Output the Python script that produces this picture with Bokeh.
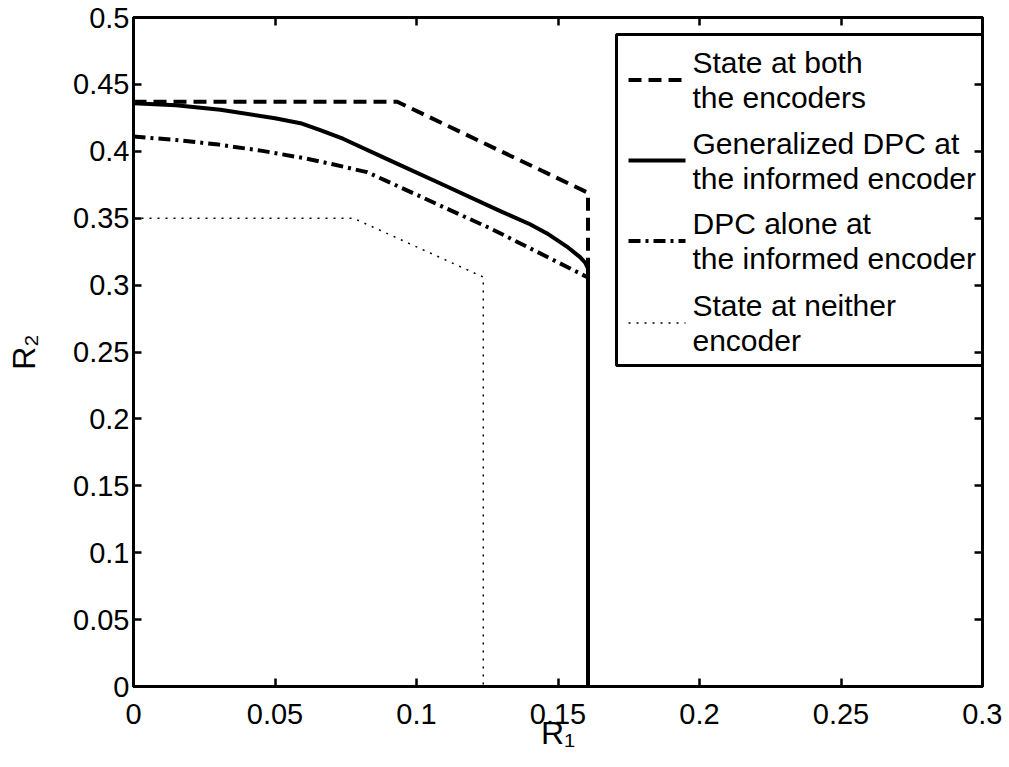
from bokeh.plotting import figure
from bokeh.models import Range1d, LinearAxis, FixedTicker
from bokeh.embed import file_html
from bokeh.resources import INLINE
from bokeh.core.properties import value

# ---------------- data ----------------
x_ticks = [0, 0.05, 0.1, 0.15, 0.2, 0.25, 0.3]
x_tick_labels = ["0", "0.05", "0.1", "0.15", "0.2", "0.25", "0.3"]
y_ticks = [0, 0.05, 0.1, 0.15, 0.2, 0.25, 0.3, 0.35, 0.4, 0.45, 0.5]
y_tick_labels = ["0", "0.05", "0.1", "0.15", "0.2", "0.25", "0.3", "0.35", "0.4", "0.45", "0.5"]
x_label = "R\u2081"
y_label = "R\u2082"

both_x = [0, 0.0932, 0.1606, 0.1606]
both_y = [0.437, 0.437, 0.369, 0]

gdpc_x = [0, 0.015, 0.0307, 0.05, 0.059, 0.066, 0.0742, 0.09, 0.11, 0.13,
          0.1401, 0.146, 0.153, 0.1578, 0.1597, 0.1606, 0.1606]
gdpc_y = [0.436, 0.4345, 0.431, 0.4247, 0.421, 0.4158, 0.4092, 0.3938, 0.3744, 0.3549,
          0.3455, 0.3388, 0.3290, 0.3209, 0.3165, 0.3125, 0]

dpc_x = [0, 0.015, 0.03, 0.045, 0.06, 0.07, 0.0825, 0.0942, 0.1119, 0.126, 0.1606, 0.1606]
dpc_y = [0.411, 0.4085, 0.405, 0.4005, 0.395, 0.3905, 0.3844, 0.3732, 0.356, 0.3425, 0.3057, 0]

neither_x = [0, 0.0777, 0.1236, 0.1236]
neither_y = [0.35, 0.35, 0.306, 0]

legend_labels = [
    ["State at both", "the encoders"],
    ["Generalized DPC at", "the informed encoder"],
    ["DPC alone at", "the informed encoder"],
    ["State at neither", "encoder"],
]

X_MAX = 0.3
Y_MAX = 0.5

# ---------------- layout (page pixels) ----------------
FL, FR, FT, FB = 133, 982, 17, 686
FONT = "Liberation Sans"
TICK_FS = "29px"
LEG_FS = "30px"


def dx(px):
    return (px - FL) / (FR - FL) * X_MAX


def dy(py):
    return (FB - py) / (FB - FT) * Y_MAX


p = figure(
    x_range=Range1d(0, X_MAX), y_range=Range1d(0, Y_MAX),
    frame_width=FR - FL, frame_height=FB - FT,
    min_border_left=FL, min_border_top=FT,
    min_border_right=20, min_border_bottom=78,
    output_backend="svg", toolbar_location=None,
)
p.xgrid.visible = False
p.ygrid.visible = False
p.background_fill_color = "white"
p.border_fill_color = "white"
p.outline_line_color = "black"
p.outline_line_width = 3


def style_axis(ax, ticks, labels, show_labels, standoff):
    ax.ticker = FixedTicker(ticks=ticks)
    ax.axis_line_width = 3
    ax.axis_line_color = "black"
    ax.major_tick_in = 8
    ax.major_tick_out = 0
    ax.major_tick_line_width = 2.5
    ax.major_tick_line_color = "black"
    ax.minor_tick_line_color = None
    ax.major_label_standoff = standoff
    if show_labels:
        ax.major_label_overrides = {t: s for t, s in zip(ticks, labels)}
        ax.major_label_text_font = FONT
        ax.major_label_text_font_size = TICK_FS
        ax.major_label_text_color = "black"
    else:
        ax.major_label_overrides = {t: "" for t in ticks}
        ax.major_label_text_font_size = "0px"


style_axis(p.xaxis[0], x_ticks, x_tick_labels, True, 17)
style_axis(p.yaxis[0], y_ticks, y_tick_labels, True, 4)

for ax, lab, so in ((p.xaxis[0], x_label, -12), (p.yaxis[0], y_label, 28)):
    ax.axis_label = lab
    ax.axis_label_text_font = FONT
    ax.axis_label_text_font_size = "32px"
    ax.axis_label_text_font_style = "normal"
    ax.axis_label_text_color = "black"
    ax.axis_label_standoff = so

top_ax = LinearAxis()
style_axis(top_ax, x_ticks, x_tick_labels, False, 0)
p.add_layout(top_ax, "above")
right_ax = LinearAxis()
style_axis(right_ax, y_ticks, y_tick_labels, False, 0)
p.add_layout(right_ax, "right")

# ---------------- curves ----------------
LW = 4
p.line(both_x, both_y, line_color="black", line_width=LW, line_dash="13 7")
p.line(gdpc_x, gdpc_y, line_color="black", line_width=LW, line_join="round")
p.line(dpc_x, dpc_y, line_color="black", line_width=LW, line_dash="12 5 3 5")
p.line(neither_x, neither_y, line_color="black", line_width=1.5, line_dash="2 6")

# ---------------- legend (manual, MATLAB style) ----------------
p.quad(left=[dx(616)], right=[dx(983)], top=[dy(34)], bottom=[dy(365)],
       fill_color="white", line_color="black", line_width=3)

entry_centers = [79.5, 160, 240.5, 322.5]
styles = [
    dict(line_width=LW, line_dash="13 7"),
    dict(line_width=LW),
    dict(line_width=LW, line_dash="12 5 3 5"),
    dict(line_width=1.5, line_dash="2 6"),
]
for c, st, lab in zip(entry_centers, styles, legend_labels):
    p.line([dx(628), dx(685)], [dy(c), dy(c)], line_color="black", **st)
    p.text(x=[dx(692), dx(692)], y=[dy(c - 17.5), dy(c + 17.5)], text=lab,
           text_baseline="middle", text_align="left",
           text_font=value(FONT), text_font_size=LEG_FS, text_color="black")

open("out.html", "w").write(file_html(p, INLINE))
